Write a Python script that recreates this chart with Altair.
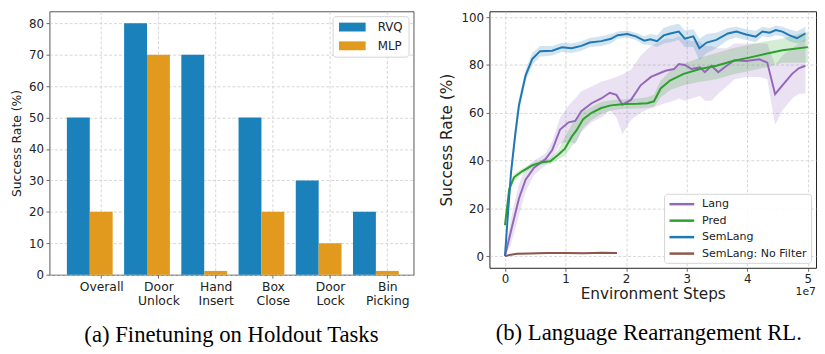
import altair as alt
import pandas as pd

# ---------------- (a) bar chart data ----------------
categories = ["Overall", "Door Unlock", "Hand Insert", "Box Close", "Door Lock", "Bin Picking"]
rvq = [50, 80, 70, 50, 30, 20]
mlp = [20, 70, 1.2, 20, 10, 1.2]
methods = ["RVQ", "MLP"]
bar_colors = ["#1a81ba", "#e19a1e"]

# ---------------- (b) learning curves data (x in units of 1e7 steps) ----------------
lang_x = [0, 0.1, 0.23, 0.34, 0.48, 0.67, 0.78, 0.91, 1.05, 1.16, 1.26, 1.43, 1.59, 1.73, 1.84, 1.94,
          2.08, 2.24, 2.41, 2.65, 2.79, 2.87, 2.97, 3.08, 3.22, 3.3, 3.41, 3.52, 3.66, 3.79, 3.98,
          4.2, 4.33, 4.46, 4.58, 4.74, 4.85, 4.96]
lang_mean = [0, 10.6, 24, 32, 37, 40.6, 44.4, 53, 56, 56.6, 60.7, 64, 66, 68.4, 67.5, 63.4,
             65.4, 71.5, 75, 77.6, 78.3, 80.4, 80, 78.3, 79, 77, 79.7, 77, 79.7, 82, 81.7,
             82.4, 81, 67.8, 71.5, 76.3, 78.6, 79.7]
lang_lo = [0, 5, 17, 27, 34, 38, 41, 47, 48, 47, 52, 56, 58, 61, 58, 51,
           57, 60, 62, 64, 65, 66, 65, 66, 67, 65, 65, 68, 71, 74, 75,
           75, 74, 55, 61, 66, 68, 68]
lang_hi = [1, 16, 30, 37, 40, 43, 48, 58, 63, 66, 69, 71, 73, 74, 75, 76,
           78, 84, 88, 91, 91, 92, 91, 90, 90, 88, 88, 87, 87, 89, 89,
           89, 89, 80, 84, 87, 89, 91]

pred_x = [0, 0.07, 0.15, 0.29, 0.45, 0.61, 0.75, 0.88, 0.99, 1.1, 1.18, 1.29, 1.43, 1.59, 1.75,
          1.97, 2.19, 2.35, 2.46, 2.57, 2.73, 2.95, 3.22, 3.49, 3.76, 4.03, 4.31, 4.58, 5.0]
pred_mean = [13, 28, 33, 35.6, 38, 39.3, 39.7, 42.4, 45, 49.9, 52.6, 57.3, 60, 62, 63.1,
             63.7, 63.8, 64, 64.8, 70.2, 73.6, 76.3, 78.3, 79.7, 81.7, 83.1, 84.7, 86.2, 87.5]
pred_lo = [12, 26, 31.5, 34.5, 37, 38.3, 38.5, 40.5, 42, 46, 48, 53.5, 57, 59.5, 61,
           61.7, 61.8, 62, 62.3, 66.5, 69.5, 71.5, 73, 74, 76, 77.5, 79, 81, 81]
pred_hi = [14, 30, 34.5, 36.7, 39, 40.3, 41, 44.5, 50, 55, 57.5, 60.5, 62.5, 64.5, 65.3,
           65.7, 66, 66.5, 67.5, 73.5, 77.5, 80.5, 83, 85, 87, 88.5, 90, 91, 94]

sem_x = [0, 0.05, 0.1, 0.17, 0.23, 0.34, 0.45, 0.58, 0.78, 0.94, 1.1, 1.26, 1.4, 1.59, 1.75, 1.86,
         2.02, 2.16, 2.3, 2.4, 2.51, 2.62, 2.73, 2.87, 2.97, 3.11, 3.21, 3.33, 3.49, 3.68, 3.82,
         3.98, 4.14, 4.25, 4.37, 4.47, 4.58, 4.69, 4.82, 4.96]
sem_mean = [0, 18, 35, 51, 63, 75.6, 82.5, 85.8, 86, 87.4, 87, 88, 89.4, 90, 91, 92.5,
            93, 92, 90.2, 90.8, 90, 92.4, 93.2, 94, 91, 92, 87, 89.4, 90.5, 93.2, 94,
            92.8, 91.9, 94, 93.5, 94.6, 94, 92.5, 91.2, 93.2]
sem_lo = [0, 15, 31, 47, 60, 73, 80, 83.5, 84, 85.5, 85, 86, 87.5, 88, 89, 91,
          91.5, 90.5, 88.5, 88.5, 87.5, 89, 89.5, 90.5, 87.5, 87.5, 82, 85, 87, 90.5, 91.5,
          90.5, 89.5, 92, 91.5, 92.5, 92, 90, 89, 90]
sem_hi = [1, 21, 39, 55, 66, 78, 85, 88, 88, 89.3, 89, 90, 91.3, 92, 93, 94,
          94.5, 93.5, 92, 93, 92.5, 95.5, 96.5, 97.3, 94.5, 95, 91, 93, 93.5, 95.5, 96,
          95, 94.3, 96, 95.5, 96.5, 96, 95, 94, 96]

nof_x = [0, 0.1, 0.2, 0.4, 0.7, 1.0, 1.3, 1.6, 1.85]
nof_mean = [0, 0.6, 1.0, 1.1, 1.3, 1.3, 1.2, 1.4, 1.3]

series_names = ["Lang", "Pred", "SemLang", "SemLang: No Filter"]
line_colors = ["#9467bd", "#2ca02c", "#1f77b4", "#8c564b"]

# ---------------- build tables ----------------
bar_rows = []
for i, (c, a, b) in enumerate(zip(categories, rvq, mlp)):
    bar_rows.append(dict(task=c, method="RVQ", value=a, x0=i - 0.2, x1=i + 0.2))
    bar_rows.append(dict(task=c, method="MLP", value=b, x0=i + 0.2, x1=i + 0.6))
bars_df = pd.DataFrame(bar_rows)

curve_rows = []
def add(name, xs, m, lo=None, hi=None):
    for k, x in enumerate(xs):
        curve_rows.append(dict(series=name, step=x, mean=m[k],
                               lo=(lo[k] if lo else m[k] - 0.3),
                               hi=(hi[k] if hi else m[k] + 0.3)))
add("Lang", lang_x, lang_mean, lang_lo, lang_hi)
add("Pred", pred_x, pred_mean, pred_lo, pred_hi)
add("SemLang", sem_x, sem_mean, sem_lo, sem_hi)
add("SemLang: No Filter", nof_x, nof_mean)
curves_df = pd.DataFrame(curve_rows)

# ---------------- styling ----------------
FONT = "DejaVu Sans"
GRID = dict(grid=True, gridColor="#cccccc", gridDash=[3, 2], gridWidth=0.8)
AX = dict(domain=False, tickColor="#444444", tickSize=3.5, tickWidth=0.8,
          labelColor="#222222", titleColor="#222222", labelFont=FONT, titleFont=FONT,
          titleFontWeight="normal")

label_js = "[" + ",".join(
    "[" + ",".join("'%s'" % w for w in c.split(" ")) + "]" for c in categories) + "]"

left = alt.Chart(bars_df).mark_bar().encode(
    x=alt.X("x0:Q",
            scale=alt.Scale(domain=[-0.505, 5.857], nice=False, zero=False),
            axis=alt.Axis(values=[i + 0.4 for i in range(len(categories))],
                          labelExpr=f"{label_js}[round(datum.value - 0.4)]",
                          title=None, labelFontSize=12.5, labelPadding=3,
                          labelLineHeight=13.3, labelBaseline="top", **GRID, **AX)),
    x2="x1:Q",
    y=alt.Y("value:Q",
            scale=alt.Scale(domain=[0, 83.8], nice=False),
            axis=alt.Axis(values=list(range(0, 81, 10)), title="Success Rate (%)",
                          labelFontSize=12, titleFontSize=12.5, labelPadding=2.5,
                          titlePadding=5, **GRID, **AX)),
    y2=alt.datum(0),
    color=alt.Color("method:N",
                    scale=alt.Scale(domain=methods, range=bar_colors),
                    legend=alt.Legend(title=None, orient="top-right", offset=5,
                                      symbolType="M-1,-1L5,-1L5,1L-1,1Z", symbolSize=81,
                                      symbolStrokeWidth=0, symbolOpacity=1,
                                      labelOffset=28.7, labelFontSize=12, labelFont=FONT,
                                      labelColor="#222222", rowPadding=7, padding=5,
                                      strokeColor="#d4d4d4", fillColor="rgba(255,255,255,0.85)",
                                      cornerRadius=3)),
).properties(
    width=369, height=267,
    view=alt.ViewBackground(stroke="#555555", strokeWidth=1),
    title=alt.TitleParams("(a) Finetuning on Holdout Tasks", orient="bottom", anchor="middle",
                          font="Liberation Serif", fontSize=23, fontWeight="normal",
                          color="#000000", offset=18),
)

color_scale = alt.Scale(domain=series_names, range=line_colors)
xs = alt.Scale(domain=[-0.256, 5.135], nice=False, zero=False)
ys = alt.Scale(domain=[-4.9, 102.5], nice=False, zero=False)

x_axis = alt.Axis(values=[0, 1, 2, 3, 4, 5], format="d", title="Environment Steps",
                  labelFontSize=12, titleFontSize=15.5, labelPadding=2, titlePadding=3,
                  **GRID, **AX)
y_axis = alt.Axis(values=[0, 20, 40, 60, 80, 100], title="Success Rate (%)",
                  labelFontSize=12, titleFontSize=15.5, labelPadding=2.5, titlePadding=6.5,
                  **GRID, **AX)

curve_legend = alt.Legend(title=None, orient="bottom-right", offset=5,
                          symbolType="M-1,0L4,0", symbolSize=100,
                          symbolStrokeWidth=2.5, symbolOpacity=1,
                          labelOffset=21.5, labelFontSize=11.2, labelFont=FONT,
                          labelColor="#222222", rowPadding=4.7, padding=4,
                          strokeColor="#d4d4d4", fillColor="rgba(255,255,255,0.85)",
                          cornerRadius=3)

bands = alt.Chart(curves_df).mark_area(opacity=0.2).encode(
    x=alt.X("step:Q", scale=xs, axis=x_axis),
    y=alt.Y("lo:Q", scale=ys, axis=y_axis),
    y2="hi:Q",
    color=alt.Color("series:N", scale=color_scale, legend=curve_legend),
)

lines = alt.Chart(curves_df).mark_line(strokeWidth=2).encode(
    x=alt.X("step:Q", scale=xs, axis=x_axis),
    y=alt.Y("mean:Q", scale=ys, axis=y_axis),
    order="step:Q",
    color=alt.Color("series:N", scale=color_scale, legend=curve_legend),
)

exp_df = pd.DataFrame({"t": ["1e7"]})
exp_text = alt.Chart(exp_df).mark_text(align="right", baseline="middle", fontSize=11,
                                       font=FONT, color="#222222").encode(
    text="t:N", x=alt.value(331), y=alt.value(285))

right = alt.layer(bands, lines, exp_text).properties(
    width=331, height=260,
    view=alt.ViewBackground(stroke="#222222", strokeWidth=1),
    title=alt.TitleParams("(b) Language Rearrangement RL.", orient="bottom", anchor="middle",
                          font="Liberation Serif", fontSize=23, fontWeight="normal",
                          color="#000000", offset=20, dx=-4),
)

chart = alt.hconcat(left, right, spacing=25).resolve_scale(
    color="independent"
).resolve_legend(color="independent").properties(
    padding={"left": 2, "top": 0, "right": 0, "bottom": 0}
).configure_view(stroke="#444444")

chart.save("out.html", embed_options={"renderer": "svg", "actions": False})
